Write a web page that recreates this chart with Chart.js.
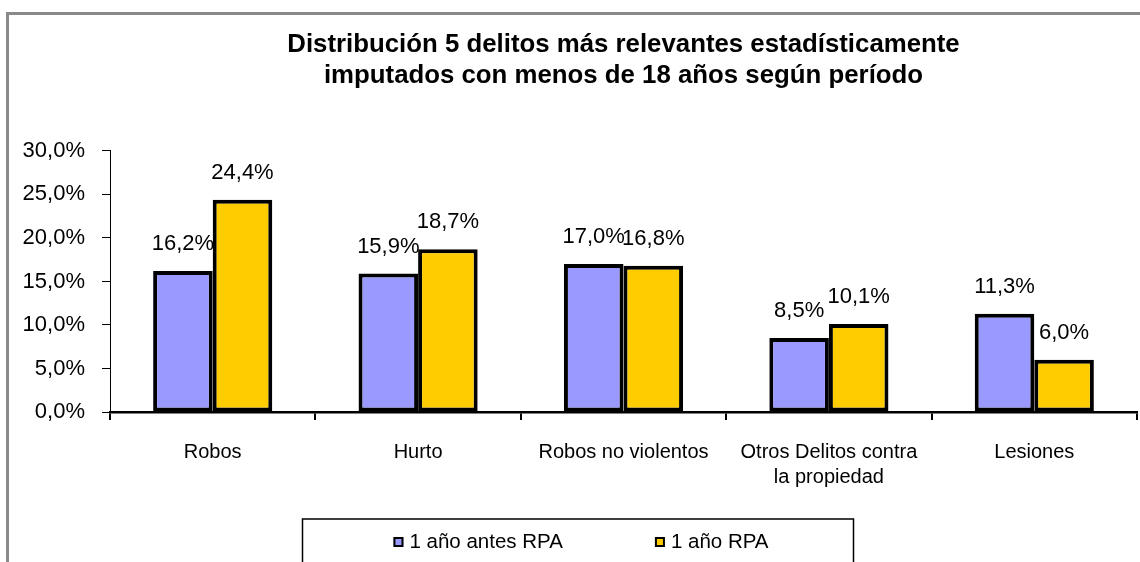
<!DOCTYPE html>
<html>
<head>
<meta charset="utf-8">
<script src="https://cdn.jsdelivr.net/npm/chart.js@4.4.1/dist/chart.umd.min.js"></script>
<style>
  body { margin: 0; background: #fff; overflow: hidden; }
  #wrap { position: relative; width: 1140px; height: 562px; }
  #frame { position: absolute; left: 6px; top: 12px; width: 1200px; height: 600px;
           border-left: 3px solid #8a8a8a; border-top: 3px solid #8a8a8a; pointer-events: none; }
</style>
</head>
<body>
<div id="wrap">
  <canvas id="chart-delitos"></canvas>
  <div id="frame"></div>
</div>
<script>
// datos
var categorias = ["Robos", "Hurto", "Robos no violentos", ["Otros Delitos contra", "la propiedad"], "Lesiones"];
var antesRPA = [16.2, 15.9, 17.0, 8.5, 11.3];
var conRPA = [24.4, 18.7, 16.8, 10.1, 6.0];
var nombresSeries = ["1 año antes RPA", "1 año RPA"];
var ticksY = [0, 5, 10, 15, 20, 25, 30];

var fuente = '"Liberation Sans", Arial, sans-serif';

function pct(v) {
    return v.toFixed(1).replace('.', ',') + '%';
}

// etiquetas de valor encima de cada barra
var etiquetas = {
    id: 'etiquetas',
    afterDatasetsDraw: function (chart) {
        var ctx = chart.ctx;
        ctx.save();
        ctx.font = '22px ' + fuente;
        ctx.fillStyle = '#000';
        ctx.textAlign = 'center';
        ctx.textBaseline = 'middle';
        chart.data.datasets.forEach(function (ds, i) {
            chart.getDatasetMeta(i).data.forEach(function (bar, j) {
                ctx.fillText(pct(ds.data[j]), bar.x, bar.y - 27);
            });
        });
        ctx.restore();
    }
};

// leyenda con recuadro al estilo Excel
var leyenda = {
    id: 'leyenda',
    afterDraw: function (chart) {
        var ctx = chart.ctx;
        ctx.save();
        ctx.font = '20.5px ' + fuente;
        var items = chart.data.datasets.map(function (ds) {
            return { label: ds.label, color: ds.backgroundColor, w: ctx.measureText(ds.label).width };
        });
        var mark = 10, gap = 6, sep = 92;
        var total = sep * (items.length - 1);
        items.forEach(function (it) { total += mark + gap + it.w; });
        var cx = chart.width / 2 + 11;
        var top = chart.scales.x.bottom + 32;
        var boxW = 551;
        var boxL = cx - boxW / 2 - 3;
        ctx.fillStyle = '#fff';
        ctx.fillRect(boxL, top, boxW, 60);
        ctx.strokeStyle = '#000';
        ctx.lineWidth = 1.5;
        ctx.strokeRect(boxL, top, boxW, 60);
        var x = cx - total / 2;
        var y = top + 23;
        ctx.textBaseline = 'middle';
        items.forEach(function (it) {
            ctx.fillStyle = it.color;
            ctx.fillRect(x, y - mark / 2, mark, mark);
            ctx.lineWidth = 2;
            ctx.strokeStyle = '#000';
            ctx.strokeRect(x + 1, y - mark / 2 + 1, mark - 2, mark - 2);
            ctx.fillStyle = '#000';
            ctx.fillText(it.label, x + mark + gap, y);
            x += mark + gap + it.w + sep;
        });
        ctx.restore();
    }
};

var ctxB = document.getElementById("chart-delitos").getContext('2d');
var grafico = new Chart(ctxB, {
    type: 'bar',
    data: {
        labels: categorias,
        datasets: [{
            label: nombresSeries[0],
            data: antesRPA,
            backgroundColor: "#9999FF",
            borderColor: "#000",
            borderWidth: 4,
            borderSkipped: false
        }, {
            label: nombresSeries[1],
            data: conRPA,
            backgroundColor: "#FFCC00",
            borderColor: "#000",
            borderWidth: 4,
            borderSkipped: false
        }]
    },
    options: {
        responsive: true,
        maintainAspectRatio: false,
        animation: false,
        layout: { padding: { left: 8, right: 3, top: 0, bottom: 75 } },
        datasets: { bar: { categoryPercentage: 0.58, barPercentage: 1 } },
        plugins: {
            legend: { display: false },
            tooltip: { enabled: false },
            title: {
                display: true,
                fullSize: false,
                text: ["Distribución 5 delitos más relevantes estadísticamente",
                       "imputados con menos de 18 años según período"],
                color: '#000',
                font: { family: fuente, size: 25.8, weight: 'bold', lineHeight: 1.18 },
                padding: { top: 30, bottom: 60 }
            }
        },
        scales: {
            x: {
                border: { color: '#000', width: 2.5 },
                grid: { offset: true, drawOnChartArea: false, tickLength: 8, color: '#000', lineWidth: 2 },
                ticks: { color: '#000', padding: 20, maxRotation: 0, autoSkip: false,
                         font: { family: fuente, size: 20, lineHeight: 1.25 } },
                afterFit: function (scale) { scale.height = 75; }
            },
            y: {
                min: 0,
                max: 30,
                afterBuildTicks: function (scale) {
                    scale.ticks = ticksY.map(function (v) { return { value: v }; });
                },
                border: { color: '#000', width: 1 },
                grid: { drawOnChartArea: false, tickLength: 8, color: '#000' },
                ticks: { color: '#000', padding: 17, font: { family: fuente, size: 22 },
                         callback: function (v) { return pct(v); } },
                afterFit: function (scale) { scale.width = 102; }
            }
        }
    },
    plugins: [etiquetas, leyenda]
});
</script>
</body>
</html>
